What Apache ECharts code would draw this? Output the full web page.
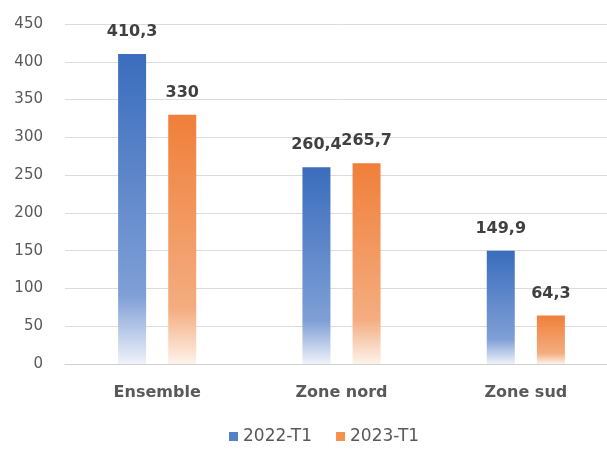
<!DOCTYPE html>
<html>
<head>
<meta charset="utf-8">
<script src="https://cdn.jsdelivr.net/npm/echarts@6/dist/echarts.min.js"></script>
<style>
  html, body { margin: 0; padding: 0; background: #fff; overflow: hidden; }
  #chart { width: 620px; height: 450px; }
</style>
</head>
<body>
<div id="chart"></div>
<script>
// données
const categories = ["Ensemble", "Zone nord", "Zone sud"]
const seriesNames = ["2022-T1", "2023-T1"]
const values2022 = [410.3, 260.4, 149.9]
const values2023 = [330, 265.7, 64.3]
const yTicks = { min: 0, max: 450, interval: 50 }

// dégradé vertical vers le blanc
const fade = (top, mid, bottom) => new echarts.graphic.LinearGradient(0, 0, 0, 1, [
  { offset: 0, color: top },
  { offset: 0.78, color: mid },
  { offset: 1, color: bottom }
])

const fmt = v => String(v).replace(".", ",")

const labelStyle = {
  show: true,
  position: "top",
  distance: 14,
  formatter: p => fmt(p.value),
  color: "#404040",
  fontWeight: "bold",
  fontSize: 16,
  fontFamily: "DejaVu Sans"
}

// le graphique déborde un peu à droite, comme l'original
const chart = echarts.init(document.getElementById("chart"))
chart.setOption({
  animation: false,
  grid: { left: 65, right: 2, top: 24, bottom: 86 },
  legend: {
    left: 224,
    bottom: 0,
    itemWidth: 9,
    itemHeight: 9,
    itemGap: 24,
    icon: "rect",
    textStyle: { color: "#595959", fontSize: 17, fontFamily: "DejaVu Sans" },
    data: [
      { name: seriesNames[0], itemStyle: { color: "#5581c8" } },
      { name: seriesNames[1], itemStyle: { color: "#f4914f" } }
    ]
  },
  xAxis: {
    type: "category",
    data: categories,
    axisTick: { show: false },
    axisLine: { lineStyle: { color: "#d0d0d0" } },
    axisLabel: {
      margin: 21,
      color: "#595959",
      fontWeight: "bold",
      fontSize: 16,
      fontFamily: "DejaVu Sans"
    }
  },
  yAxis: {
    type: "value",
    min: yTicks.min,
    max: yTicks.max,
    interval: yTicks.interval,
    axisLine: { show: false },
    axisTick: { show: false },
    splitLine: { lineStyle: { color: "#dcdcdc" } },
    axisLabel: {
      margin: 22,
      color: "#595959",
      fontSize: 15,
      fontFamily: "DejaVu Sans"
    }
  },
  series: [
    {
      name: seriesNames[0],
      type: "bar",
      data: values2022,
      barWidth: 28,
      barGap: "79%",
      itemStyle: { color: fade("#3a6dbd", "#7f9fd6", "#eef2fa") },
      label: labelStyle
    },
    {
      name: seriesNames[1],
      type: "bar",
      data: values2023,
      barWidth: 28,
      itemStyle: { color: fade("#f07f3a", "#f4ad80", "#fdf3ec") },
      label: labelStyle
    }
  ]
})
</script>
</body>
</html>
